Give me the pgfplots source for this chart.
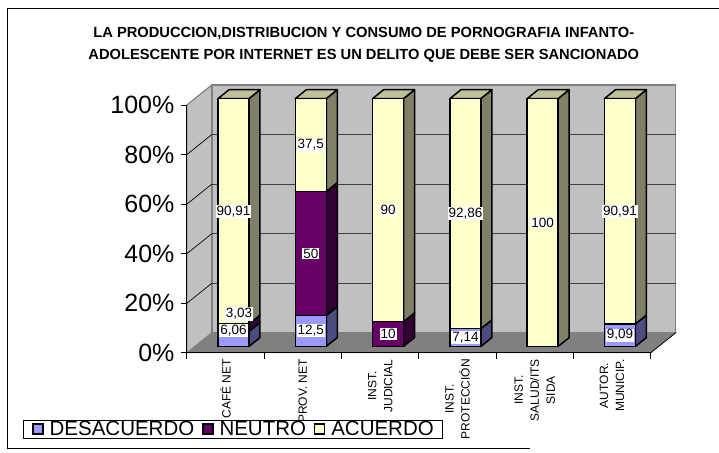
\documentclass[border=0pt]{standalone}
\usepackage{pgfplots}
\pgfplotsset{compat=1.18}
\usepackage{fontspec}
\setmainfont{Liberation Sans}
\definecolor{desac}{HTML}{9999FF}
\definecolor{neutro}{HTML}{660066}
\definecolor{acuerdo}{HTML}{FFFFCC}
\definecolor{desacS}{HTML}{4C4C80}
\definecolor{neutroS}{HTML}{330033}
\definecolor{acuerdoS}{HTML}{808066}
\definecolor{acuerdoT}{HTML}{C0C099}
\definecolor{wallc}{HTML}{C0C0C0}
\definecolor{floorc}{HTML}{808080}
\definecolor{gridc}{HTML}{404040}
\tikzset{face/.style={draw=black, line width=1.5pt, line join=round},
  lab/.style={fill=white, inner sep=1pt, font=\fontsize{13.5}{15}\selectfont}}
\pgfplotsset{geom/.style={anchor=south west, width=464pt, height=248pt, scale only axis,
  xmin=-0.5, xmax=5.5, ymin=0, ymax=100, clip=false}}
\begin{document}
\begin{tikzpicture}
\path (0pt,0pt) rectangle (719pt,453pt);
\draw[line width=0.8pt] (719pt,445pt) -- (7pt,445pt) -- (7pt,4pt) -- (530pt,4pt);
\node[align=center, font=\bfseries\fontsize{14.7}{22}\selectfont] at (364pt,408.5pt)
 {LA PRODUCCION,DISTRIBUCION Y CONSUMO DE PORNOGRAFIA INFANTO-\\ADOLESCENTE POR INTERNET ES UN DELITO QUE DEBE SER SANCIONADO};
% ---------- walls and floor ----------
\begin{axis}[at={(187pt,100pt)}, geom, hide axis]
\addplot[fill=floorc, draw=floorc, line width=0.8pt] coordinates {(-0.5,0) (5.5,0) (5.823,8.06) (-0.177,8.06) (-0.5,0)};
\addplot[fill=wallc, draw=floorc, line width=1.2pt] coordinates {(-0.5,0) (-0.5,100) (-0.177,108.06) (-0.177,8.06) (-0.5,0)};
\addplot[fill=wallc, draw=floorc, line width=1.5pt] coordinates {(-0.177,8.06) (5.823,8.06) (5.823,108.06) (-0.177,108.06) (-0.177,8.06)};
\addplot[draw=gridc, line width=0.8pt] coordinates {(-0.177,28.06) (5.823,28.06)};
\addplot[draw=gridc, line width=0.8pt] coordinates {(-0.177,48.06) (5.823,48.06)};
\addplot[draw=gridc, line width=0.8pt] coordinates {(-0.177,68.06) (5.823,68.06)};
\addplot[draw=gridc, line width=0.8pt] coordinates {(-0.177,88.06) (5.823,88.06)};
\addplot[draw=black, line width=0.7pt] coordinates {(-0.5,20) (-0.177,28.06)};
\addplot[draw=black, line width=0.7pt] coordinates {(-0.5,40) (-0.177,48.06)};
\addplot[draw=black, line width=0.7pt] coordinates {(-0.5,60) (-0.177,68.06)};
\addplot[draw=black, line width=0.7pt] coordinates {(-0.5,80) (-0.177,88.06)};
\addplot[draw=black, line width=0.7pt] coordinates {(5.5,0) (5.823,8.06)};
\end{axis}
% ---------- front axis lines, ticks and labels ----------
\begin{axis}[at={(187pt,100pt)}, geom,
  axis x line=bottom, axis y line=left, axis line style={-, line width=0.8pt, black},
  tick align=outside, major tick length=6pt, tick style={black, line width=0.8pt},
  ytick={0,20,40,60,80,100}, yticklabels={0\%,20\%,40\%,60\%,80\%,100\%},
  yticklabel style={font=\fontsize{25}{28}\selectfont, xshift=-3pt},
  xtick={-0.5,0.5,1.5,2.5,3.5,4.5,5.5}, xticklabels={},
  extra x ticks={0,1,2,3,4,5},
  extra x tick labels={CAFÉ NET,PROV. NET,{INST.\\JUDICIAL},{INST.\\PROTECCIÓN},{INST.\\SALUD/ITS\\SIDA},{AUTOR.\\MUNICIP.}},
  extra x tick style={major tick length=0pt},
  xticklabel style={yshift=-3pt, rotate=90, anchor=east, align=center, font=\fontsize{12}{16}\selectfont},
]
\end{axis}
% ---------- side and top faces ----------
\begin{axis}[at={(195pt,106.4pt)}, geom, hide axis]
% bar 0
\addplot[face, fill=desacS] coordinates {(0.2,0) (0.342,3.55) (0.342,9.61) (0.2,6.06)} -- cycle;
\addplot[face, fill=neutroS] coordinates {(0.2,6.06) (0.342,9.61) (0.342,12.64) (0.2,9.09)} -- cycle;
\addplot[face, fill=acuerdoS] coordinates {(0.2,9.09) (0.342,12.64) (0.342,103.55) (0.2,100)} -- cycle;
\addplot[face, fill=acuerdoT] coordinates {(-0.2,100) (0.2,100) (0.342,103.55) (-0.058,103.55)} -- cycle;
% bar 1
\addplot[face, fill=desacS] coordinates {(1.2,0) (1.342,3.55) (1.342,16.05) (1.2,12.5)} -- cycle;
\addplot[face, fill=neutroS] coordinates {(1.2,12.5) (1.342,16.05) (1.342,66.05) (1.2,62.5)} -- cycle;
\addplot[face, fill=acuerdoS] coordinates {(1.2,62.5) (1.342,66.05) (1.342,103.55) (1.2,100)} -- cycle;
\addplot[face, fill=acuerdoT] coordinates {(0.8,100) (1.2,100) (1.342,103.55) (0.942,103.55)} -- cycle;
% bar 2
\addplot[face, fill=neutroS] coordinates {(2.2,0) (2.342,3.55) (2.342,13.55) (2.2,10)} -- cycle;
\addplot[face, fill=acuerdoS] coordinates {(2.2,10) (2.342,13.55) (2.342,103.55) (2.2,100)} -- cycle;
\addplot[face, fill=acuerdoT] coordinates {(1.8,100) (2.2,100) (2.342,103.55) (1.942,103.55)} -- cycle;
% bar 3
\addplot[face, fill=desacS] coordinates {(3.2,0) (3.342,3.55) (3.342,10.69) (3.2,7.14)} -- cycle;
\addplot[face, fill=acuerdoS] coordinates {(3.2,7.14) (3.342,10.69) (3.342,103.55) (3.2,100)} -- cycle;
\addplot[face, fill=acuerdoT] coordinates {(2.8,100) (3.2,100) (3.342,103.55) (2.942,103.55)} -- cycle;
% bar 4
\addplot[face, fill=acuerdoS] coordinates {(4.2,0) (4.342,3.55) (4.342,103.55) (4.2,100)} -- cycle;
\addplot[face, fill=acuerdoT] coordinates {(3.8,100) (4.2,100) (4.342,103.55) (3.942,103.55)} -- cycle;
% bar 5
\addplot[face, fill=desacS] coordinates {(5.2,0) (5.342,3.55) (5.342,12.64) (5.2,9.09)} -- cycle;
\addplot[face, fill=acuerdoS] coordinates {(5.2,9.09) (5.342,12.64) (5.342,103.55) (5.2,100)} -- cycle;
\addplot[face, fill=acuerdoT] coordinates {(4.8,100) (5.2,100) (5.342,103.55) (4.942,103.55)} -- cycle;
\end{axis}
% ---------- front faces and legend ----------
\begin{axis}[at={(195pt,106.4pt)}, geom, hide axis,
  ybar stacked, bar width=31pt,
  legend image code/.code={\draw[#1, draw=black, line width=1.3pt] (0pt,-5pt) rectangle (10pt,5pt);},
  legend columns=3,
  legend style={at={(axis description cs:-0.3707,-0.2960)}, anchor=north west,
    draw=black, line width=0.8pt, fill=white, inner xsep=9pt, inner ysep=0pt,
    font=\fontsize{20.5}{22}\selectfont,
    nodes={inner ysep=1pt, inner xsep=0pt},
    /tikz/every odd column/.append style={column sep=6pt},
    /tikz/every even column/.append style={column sep=8pt}}]
\addplot[fill=desac, draw=black, line width=1.5pt] coordinates {(0,6.06) (1,12.5) (2,0) (3,7.14) (4,0) (5,9.09)};
\addplot[fill=neutro, draw=black, line width=1.5pt] coordinates {(0,3.03) (1,50) (2,10) (3,0) (4,0) (5,0)};
\addplot[fill=acuerdo, draw=black, line width=1.5pt] coordinates {(0,90.91) (1,37.5) (2,90) (3,92.86) (4,100) (5,90.91)};
\legend{DESACUERDO,NEUTRO,ACUERDO}
\end{axis}
% ---------- data labels ----------
\begin{axis}[at={(195pt,106.4pt)}, geom, hide axis]
\node[lab] at (axis cs:0,54.5) {90,91};
\node[lab] at (axis cs:0,6.3) {6,06};
\node[lab] at (axis cs:0.07,13.1) {3,03};
\node[lab] at (axis cs:1,81.25) {37,5};
\node[lab] at (axis cs:1,37.5) {50};
\node[lab] at (axis cs:1,6.25) {12,5};
\node[lab] at (axis cs:2,55) {90};
\node[lab] at (axis cs:2,5) {10};
\node[lab] at (axis cs:3,53.57) {92,86};
\node[lab] at (axis cs:3,3.57) {7,14};
\node[lab] at (axis cs:4,50) {100};
\node[lab] at (axis cs:5,54.55) {90,91};
\node[lab] at (axis cs:5,4.55) {9,09};
\end{axis}
\end{tikzpicture}
\end{document}
